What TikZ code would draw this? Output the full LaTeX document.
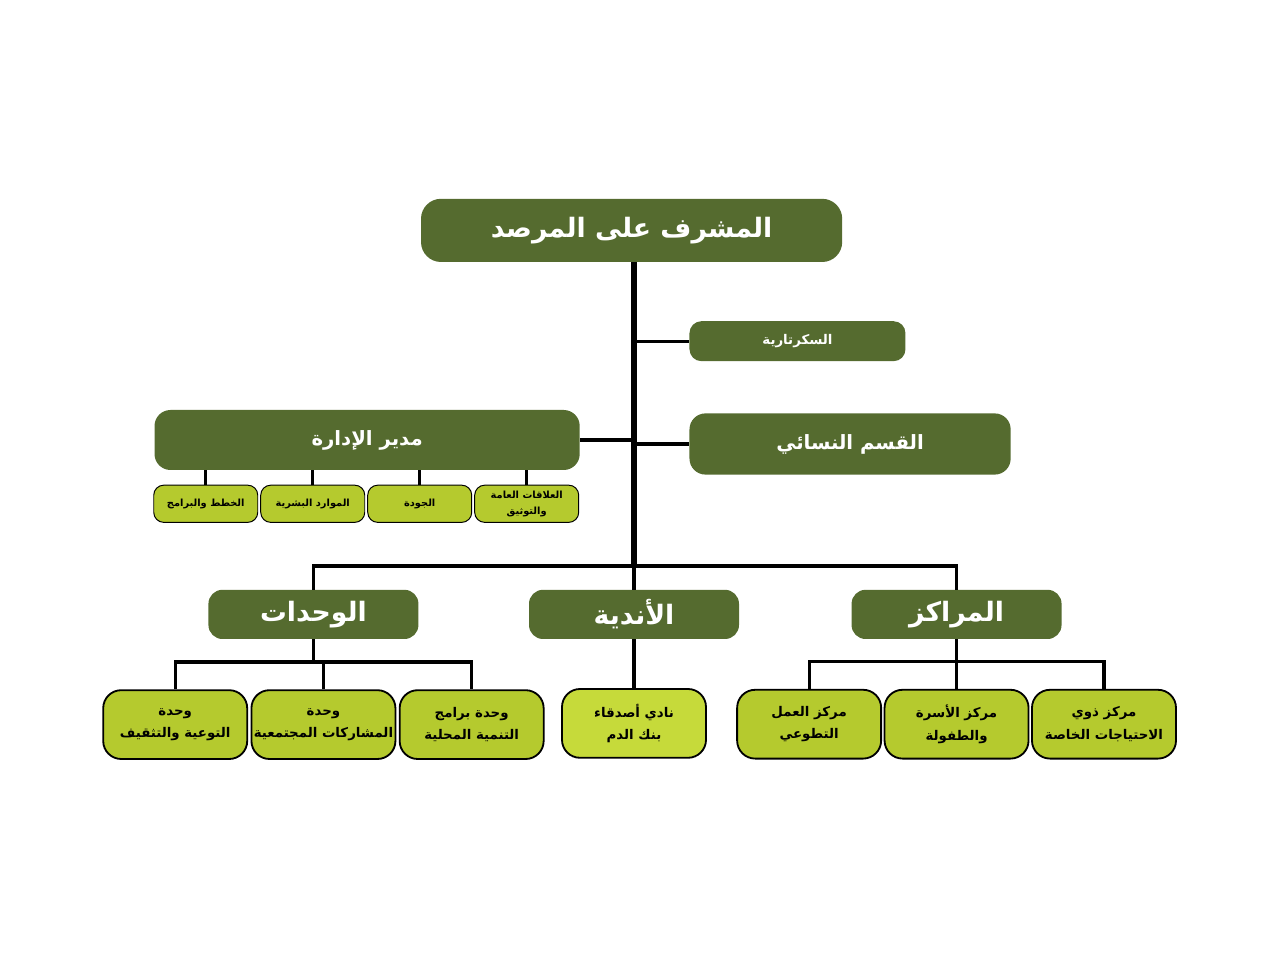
\documentclass[tikz,border=0pt]{standalone}
\usepackage{fontspec}
\newfontfamily\arabicfont[Script=Arabic]{DejaVu Sans}
\TeXXeTstate=1
\usetikzlibrary{positioning}
\definecolor{boxdark}{HTML}{556B2F}
\definecolor{boxlight}{HTML}{B5CA2E}
\definecolor{boxpale}{HTML}{C6DA3A}
\newcommand{\rtl}[1]{\beginR #1\endR}

\begin{document}
\begin{tikzpicture}[
        node distance=1.2cm,
        darkbox/.style={rectangle, fill=boxdark, text=white, align=center, inner sep=0pt},
        headbox/.style={darkbox, rounded corners=0.5cm, minimum width=10.53cm, minimum height=1.58cm, font=\arabicfont\bfseries\fontsize{19}{22}\selectfont},
        groupbox/.style={darkbox, rounded corners=0.35cm, minimum width=5.25cm, minimum height=1.23cm, font=\arabicfont\bfseries\fontsize{19}{22}\selectfont},
        sidebox/.style={darkbox, rounded corners=0.4cm, font=\arabicfont\bfseries\fontsize{14}{17}\selectfont},
        leafbox/.style={rectangle, draw=black, line width=1.3pt, fill=boxlight, rounded corners=0.45cm, align=center, minimum width=3.6cm, minimum height=1.72cm, inner sep=0pt, font=\arabicfont\bfseries\fontsize{9.5}{16}\selectfont},
        subbox/.style={rectangle, draw=black, line width=0.7pt, fill=boxlight, rounded corners=0.25cm, align=center, minimum width=2.6cm, minimum height=0.93cm, inner sep=0pt, font=\arabicfont\bfseries\fontsize{7}{11}\selectfont},
        trunk/.style={line width=3.6pt, draw=black},
        link/.style={line width=2.3pt, draw=black}
    ]
        \useasboundingbox (0,0) rectangle (32,-24);

        \node[headbox] (sup) at (15.79,-5.76) {\rtl{المشرف على المرصد}};
        \coordinate (hub) at (15.85,-14.15);
        \coordinate (sec-in) at (15.85,-8.53);
        \coordinate (nisa-in) at (15.85,-11.1);
        \coordinate (idara-in) at (15.85,-11.0);

        \node[sidebox, minimum width=5.4cm, minimum height=1.0cm, rounded corners=0.3cm, font=\arabicfont\bfseries\fontsize{9.5}{12}\selectfont, right=1.38cm of sec-in] (sec) {\rtl{السكرتارية}};
        \node[sidebox, minimum width=8.03cm, minimum height=1.53cm, right=1.38cm of nisa-in] (nisa) {\rtl{القسم النسائي}};
        \node[sidebox, minimum width=10.63cm, minimum height=1.5cm, left=1.35cm of idara-in] (idara) {\rtl{مدير الإدارة}};

        \node[subbox, below left=0.36cm and 0.02cm of idara.south east] (alaqat) {\rtl{العلاقات العامة}\\\rtl{والتوثيق}};
        \node[subbox, left=0.05cm of alaqat] (jawda) {\rtl{الجودة}};
        \node[subbox, left=0.05cm of jawda] (mawarid) {\rtl{الموارد البشرية}};
        \node[subbox, left=0.05cm of mawarid] (khutat) {\rtl{الخطط والبرامج}};

        \node[groupbox] (andiya) at (15.85,-15.36) {\rtl{الأندية}};
        \node[groupbox, left=2.75cm of andiya] (wahdat) {\rtl{الوحدات}};
        \node[groupbox, right=2.8cm of andiya] (marakiz) {\rtl{المراكز}};

        \node[leafbox, below=1.25cm of wahdat, xshift=0.25cm] (musharakat) {\rtl{وحدة}\\\rtl{المشاركات المجتمعية}};
        \node[leafbox, left=0.06cm of musharakat] (tawiya) {\rtl{وحدة}\\\rtl{التوعية والتثقيف}};
        \node[leafbox, right=0.06cm of musharakat] (tanmiya) {\rtl{وحدة برامج}\\\rtl{التنمية المحلية}};

        \node[leafbox, fill=boxpale, below=1.22cm of andiya] (nadi) {\rtl{نادي أصدقاء}\\\rtl{بنك الدم}};

        \node[leafbox, below=1.24cm of marakiz] (usra) {\rtl{مركز الأسرة}\\\rtl{والطفولة}};
        \node[leafbox, left=0.04cm of usra] (amal) {\rtl{مركز العمل}\\\rtl{التطوعي}};
        \node[leafbox, right=0.04cm of usra] (khassa) {\rtl{مركز ذوي}\\\rtl{الاحتياجات الخاصة}};

        \draw[trunk] (sup.south -| hub) -- (hub);
        \draw[link] (sec-in) -- (sec);
        \draw[link] (nisa-in) -- (nisa);
        \draw[link] (idara) -- (idara-in);
        \foreach \sub in {alaqat, jawda, mawarid, khutat}
            \draw[link] (idara.south -| \sub.north) -- (\sub.north);

        \draw[link] (wahdat.north) |- (hub) -| (marakiz.north);
        \draw[link] (hub) -- (andiya);
        \draw[link] (andiya) -- (nadi);

        \draw[link] (tawiya.north) -- ++(0,0.68) coordinate (wbus) -| (tanmiya.north);
        \draw[link] (wahdat.south) -- (wahdat.south |- wbus);
        \draw[link] (musharakat.north) -- (musharakat.north |- wbus);

        \draw[link] (amal.north) -- ++(0,0.68) coordinate (mbus) -| (khassa.north);
        \draw[link] (marakiz.south) -- (marakiz.south |- mbus);
        \draw[link] (usra.north) -- (usra.north |- mbus);
    \end{tikzpicture}
\end{document}
